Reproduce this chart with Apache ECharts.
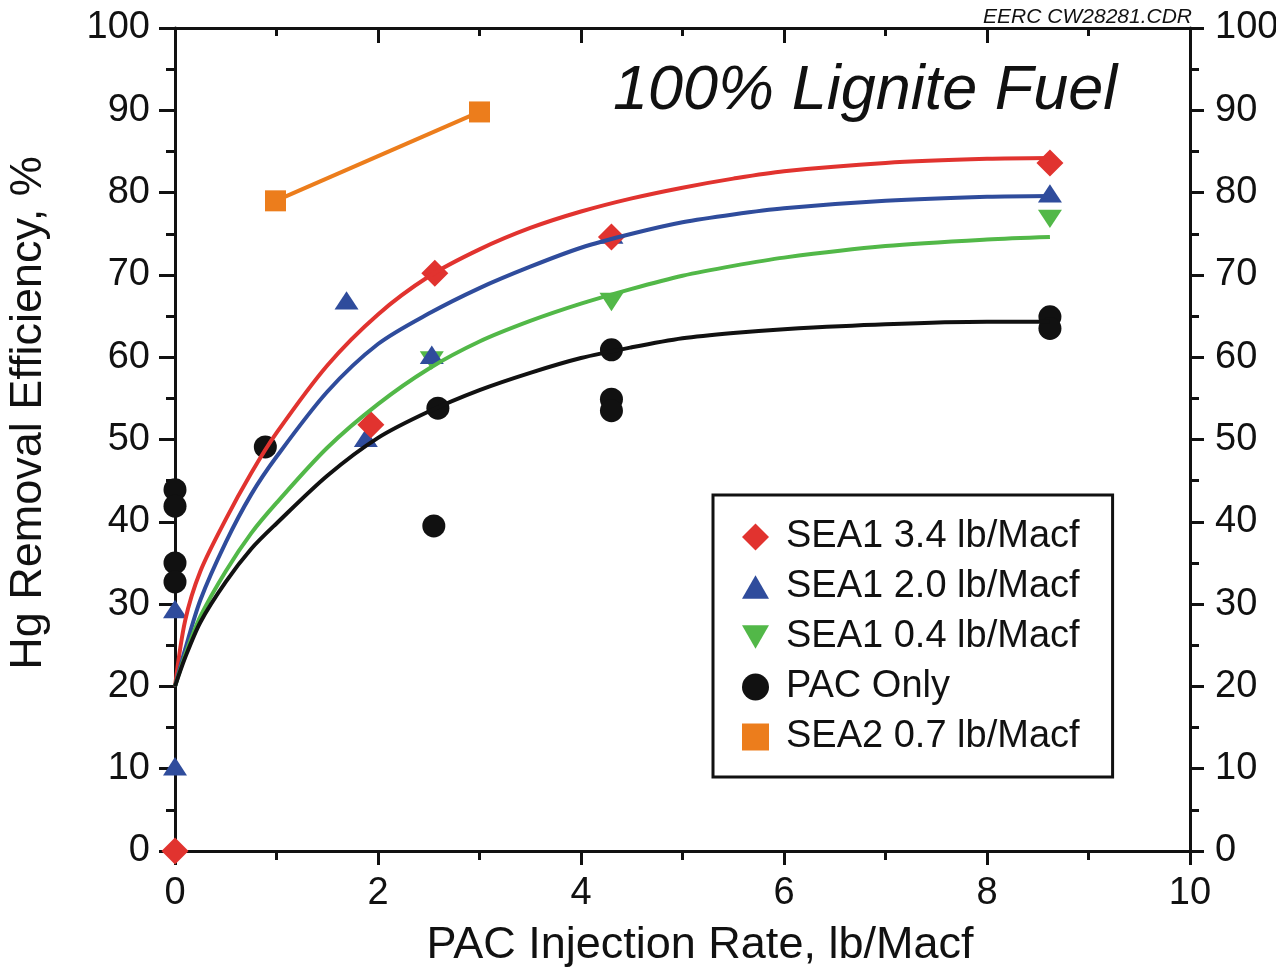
<!DOCTYPE html>
<html>
<head>
<meta charset="utf-8">
<script src="https://cdn.jsdelivr.net/npm/echarts@6/dist/echarts.min.js"></script>
<style>
html,body{margin:0;padding:0;background:#fff;}
#chart{width:1276px;height:971px;}
</style>
</head>
<body>
<div id="chart"></div>
<script>
// ---- data (x = PAC injection rate lb/Macf, y = Hg removal %) ----
const xTicks = [0, 2, 4, 6, 8, 10];
const yTicks = [0, 10, 20, 30, 40, 50, 60, 70, 80, 90, 100];

const sea1_34_pts = [[0,0],[1.93,51.8],[2.56,70.2],[4.3,74.6],[8.62,83.6]];
const sea1_20_pts = [[0,10.3],[0,29.4],[1.69,66.9],[1.88,50.2],[2.53,60.3],[4.3,74.9],[8.62,79.9]];
const sea1_04_pts = [[2.53,59.6],[4.3,66.7],[8.62,76.8]];
const pacOnly_pts = [[0,43.9],[0,41.9],[0,35.0],[0,32.7],[0.89,49.1],[2.59,53.8],[2.55,39.5],[4.3,60.9],[4.3,54.9],[4.3,53.5],[8.62,64.9],[8.62,63.5]];
const sea2_07_pts = [[0.99,79.0],[3.0,89.8]];

// fitted curves
const sea1_34_fit = [[0,20],[0.1,28.0],[0.25,34.0],[0.5,40.3],[0.75,45.9],[1,50.8],[1.5,59.0],[2,65.2],[2.5,69.8],[3,73.1],[3.5,75.7],[4,77.7],[4.5,79.3],[5,80.6],[5.5,81.7],[6,82.6],[7,83.6],[8,84.1],[8.62,84.2]];
const sea1_20_fit = [[0,20],[0.1,24.5],[0.25,30.5],[0.5,37.5],[0.75,43.3],[1,47.9],[1.5,55.8],[2,61.6],[2.5,65.3],[3,68.4],[3.5,71.0],[4,73.3],[4.5,75.0],[5,76.4],[5.5,77.35],[6,78.1],[7,79.0],[8,79.5],[8.62,79.6]];
const sea1_04_fit = [[0,20],[0.1,23.8],[0.25,28.5],[0.5,34.0],[0.75,38.6],[1,42.3],[1.5,49.0],[2,54.3],[2.5,58.6],[3,61.9],[3.5,64.4],[4,66.5],[4.5,68.3],[5,69.9],[5.5,71.1],[6,72.1],[7,73.5],[8,74.3],[8.62,74.6]];
const pacOnly_fit = [[0,20],[0.1,23.5],[0.25,27.8],[0.5,32.7],[0.75,36.7],[1,39.8],[1.5,45.6],[2,50.2],[2.5,53.4],[3,56.0],[3.5,58.1],[4,59.9],[4.5,61.2],[5,62.3],[5.5,62.95],[6,63.4],[7,64.0],[8,64.3],[8.62,64.3]];

const names = ['SEA1 3.4 lb/Macf','SEA1 2.0 lb/Macf','SEA1 0.4 lb/Macf','PAC Only','SEA2 0.7 lb/Macf'];
const colors = {red:'#e1332f', blue:'#2f4c9c', green:'#52b848', black:'#111111', orange:'#ec7d1c'};

const FONT = "'Liberation Sans', Arial, Helvetica, sans-serif";
const upTri = 'path://M12,0L24,21L0,21Z';
const downTri = 'path://M0,0L24,0L12,21Z';

const chart = echarts.init(document.getElementById('chart'), null, {renderer:'canvas'});

const axisCommon = {
  type:'value',
  axisLine:{show:true, onZero:false, lineStyle:{color:'#111', width:3}},
  splitLine:{show:false},
  minorSplitLine:{show:false}
};

function lineSeries(name, data, color){
  return {name:name, type:'line', data:data, smooth:0.3, showSymbol:false, symbol:'none',
    lineStyle:{color:color, width:4}, itemStyle:{color:color}, z:5, silent:true, clip:false};
}
function scatterSeries(name, data, color, symbol, size, z){
  return {name:name, type:'scatter', data:data, symbol:symbol, symbolSize:size, symbolKeepAspect:true,
    itemStyle:{color:color, opacity:1}, z:z, clip:false, silent:true};
}

chart.setOption({
  animation:false,
  backgroundColor:'#fff',
  grid:{left:175, right:86, top:28, bottom:120, containLabel:false, outerBoundsMode:'none'},
  xAxis:[
    Object.assign({}, axisCommon, {position:'bottom', min:0, max:10, interval:2,
      axisTick:{show:true, length:14, lineStyle:{color:'#111', width:3}},
      minorTick:{show:true, splitNumber:2, length:9, lineStyle:{color:'#111', width:3}},
      axisLabel:{show:true, fontSize:38, fontFamily:FONT, color:'#111', margin:24,
        formatter:function(v){return xTicks.indexOf(v)>=0 ? String(v) : '';}}}),
    Object.assign({}, axisCommon, {position:'top', min:0, max:10, interval:2,
      axisTick:{show:true, inside:true, length:15, lineStyle:{color:'#111', width:3}},
      minorTick:{show:true, splitNumber:2, length:8, lineStyle:{color:'#111', width:3}},
      axisLabel:{show:false}})
  ],
  yAxis:[
    Object.assign({}, axisCommon, {position:'left', min:0, max:100, interval:10,
      axisTick:{show:true, length:16, lineStyle:{color:'#111', width:3}},
      minorTick:{show:true, splitNumber:2, length:9, lineStyle:{color:'#111', width:3}},
      axisLabel:{show:true, fontSize:38, fontFamily:FONT, color:'#111', margin:25,
        formatter:function(v){return yTicks.indexOf(v)>=0 ? String(v) : '';}}}),
    Object.assign({}, axisCommon, {position:'right', min:0, max:100, interval:10,
      axisTick:{show:true, length:14, lineStyle:{color:'#111', width:3}},
      minorTick:{show:true, splitNumber:2, length:9, lineStyle:{color:'#111', width:3}},
      axisLabel:{show:true, fontSize:38, fontFamily:FONT, color:'#111', margin:25,
        formatter:function(v){return yTicks.indexOf(v)>=0 ? String(v) : '';}}})
  ],
  legend:{
    orient:'vertical', left:713, top:495,
    padding:[22,33,20,29],
    itemWidth:27, itemHeight:27, itemGap:10,
    borderColor:'#111', borderWidth:3, backgroundColor:'#fff',
    selectedMode:false,
    textStyle:{fontSize:38, fontFamily:FONT, color:'#111', lineHeight:40, padding:[0,0,0,12]},
    data:names
  },
  series:[
    scatterSeries(names[3], pacOnly_pts, colors.black, 'circle', 23, 2),
    scatterSeries(names[2], sea1_04_pts, colors.green, downTri, [24,21], 3),
    scatterSeries(names[1], sea1_20_pts, colors.blue, upTri, [24,21], 3),
    scatterSeries(names[0], sea1_34_pts, colors.red, 'diamond', 27, 4),
    scatterSeries(names[4], sea2_07_pts, colors.orange, 'rect', 21, 6),
    lineSeries('fit 3.4', sea1_34_fit, colors.red),
    lineSeries('fit 2.0', sea1_20_fit, colors.blue),
    lineSeries('fit 0.4', sea1_04_fit, colors.green),
    lineSeries('fit PAC', pacOnly_fit, colors.black),
    {name:'SEA2 line', type:'line', data:sea2_07_pts, symbol:'none', showSymbol:false,
      lineStyle:{color:colors.orange, width:4}, z:5, silent:true}
  ],
  graphic:[
    {type:'text', x:29, y:413, rotation:Math.PI/2, z:10,
      style:{text:'Hg Removal Efficiency, %', font:"45px " + FONT, fill:'#111', align:'center', verticalAlign:'middle'}},
    {type:'text', x:700, y:946, z:10,
      style:{text:'PAC Injection Rate, lb/Macf', font:"45px " + FONT, fill:'#111', align:'center', verticalAlign:'middle'}},
    {type:'text', x:613, y:91, z:10,
      style:{text:'100% Lignite Fuel', font:"italic 63px " + FONT, fill:'#111', align:'left', verticalAlign:'middle'}},
    {type:'text', x:1192, y:17, z:10,
      style:{text:'EERC CW28281.CDR', font:"italic 21px " + FONT, fill:'#111', align:'right', verticalAlign:'middle'}}
  ]
});
</script>
</body>
</html>
